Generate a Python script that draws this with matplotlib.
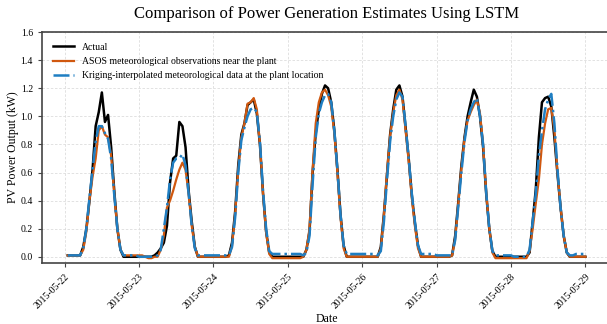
import matplotlib
matplotlib.use('Agg')
import matplotlib.pyplot as plt
import matplotlib.dates as mdates
import pandas as pd
import numpy as np

plt.rcParams['font.family'] = ['Liberation Serif', 'DejaVu Serif']

# hourly values, one list per day (01:00 ... 24:00)
actual_days = [
    [0.01]*4 + [0.01, 0.07, 0.2, 0.4, 0.62, 0.93, 1.03, 1.17, 0.96, 1.01, 0.78, 0.47, 0.2, 0.05, 0.0, 0.0, 0.0, 0.0, 0.0, 0.0],
    [0.0]*4 + [0.01, 0.03, 0.06, 0.1, 0.22, 0.53, 0.7, 0.72, 0.96, 0.93, 0.78, 0.47, 0.25, 0.07, 0.0, 0.0, 0.0, 0.0, 0.0, 0.0],
    [0.0]*4 + [0.01, 0.1, 0.32, 0.65, 0.87, 0.95, 1.08, 1.1, 1.12, 1.02, 0.8, 0.45, 0.18, 0.03, 0.0, 0.0, 0.0, 0.0, 0.0, 0.0],
    [0.0]*4 + [0.0, 0.05, 0.18, 0.6, 0.88, 1.05, 1.16, 1.22, 1.2, 1.1, 0.9, 0.62, 0.3, 0.08, 0.0, 0.0, 0.0, 0.0, 0.0, 0.0],
    [0.0]*4 + [0.0, 0.07, 0.3, 0.58, 0.87, 1.05, 1.19, 1.22, 1.14, 0.92, 0.7, 0.44, 0.24, 0.08, 0.0, 0.0, 0.0, 0.0, 0.0, 0.0],
    [0.0]*4 + [0.01, 0.15, 0.39, 0.65, 0.85, 1.0, 1.1, 1.19, 1.14, 1.0, 0.78, 0.45, 0.2, 0.04, 0.0, 0.0, 0.0, 0.0, 0.0, 0.0],
    [0.0]*4 + [0.0, 0.03, 0.25, 0.48, 0.85, 1.1, 1.13, 1.14, 1.07, 0.85, 0.59, 0.35, 0.15, 0.03, 0.0, 0.0, 0.0, 0.0, 0.0, 0.0],
]
asos_days = [
    [0.01]*4 + [0.01, 0.05, 0.18, 0.4, 0.57, 0.7, 0.9, 0.93, 0.87, 0.85, 0.72, 0.45, 0.2, 0.05, 0.01, 0.01, 0.01, 0.01, 0.01, 0.01],
    [0.01, 0.0, -0.01, -0.01] + [0.0, 0.0, 0.05, 0.15, 0.35, 0.4, 0.47, 0.55, 0.62, 0.67, 0.62, 0.45, 0.22, 0.07, 0.0, 0.0, 0.0, 0.0, 0.0, 0.0],
    [0.0]*4 + [0.0, 0.08, 0.3, 0.62, 0.85, 0.95, 1.09, 1.1, 1.13, 1.05, 0.8, 0.45, 0.17, 0.02, -0.01, -0.01, -0.01, -0.01, -0.01, -0.01],
    [-0.01]*4 + [0.0, 0.05, 0.2, 0.62, 0.95, 1.1, 1.17, 1.19, 1.15, 1.07, 0.88, 0.6, 0.28, 0.06, 0.0, 0.0, 0.0, 0.0, 0.0, 0.0],
    [0.0]*4 + [0.0, 0.06, 0.3, 0.6, 0.86, 1.03, 1.15, 1.19, 1.12, 0.9, 0.68, 0.42, 0.22, 0.06, 0.0, 0.0, 0.0, 0.0, 0.0, 0.0],
    [0.0]*4 + [0.01, 0.13, 0.38, 0.63, 0.84, 0.97, 1.03, 1.08, 1.12, 1.02, 0.8, 0.46, 0.2, 0.03, -0.01, -0.01, -0.01, -0.01, -0.01, -0.01],
    [-0.01]*4 + [-0.01, 0.04, 0.2, 0.38, 0.55, 0.8, 0.95, 1.05, 1.06, 0.9, 0.6, 0.35, 0.15, 0.03, 0.0, 0.0, 0.0, 0.0, 0.0, 0.0],
]
kriging_days = [
    [0.01]*4 + [0.01, 0.06, 0.2, 0.42, 0.62, 0.82, 0.93, 0.93, 0.88, 0.84, 0.7, 0.44, 0.2, 0.05, 0.01, 0.01, 0.01, 0.01, 0.01, 0.0],
    [0.0]*4 + [0.0, 0.01, 0.05, 0.2, 0.35, 0.55, 0.67, 0.7, 0.7, 0.73, 0.65, 0.45, 0.22, 0.06, 0.01, 0.01, 0.01, 0.01, 0.01, 0.01],
    [0.01]*4 + [0.01, 0.07, 0.28, 0.6, 0.83, 0.92, 1.0, 1.05, 1.06, 1.03, 0.82, 0.47, 0.2, 0.04, 0.02, 0.02, 0.02, 0.02, 0.02, 0.02],
    [0.02]*4 + [0.01, 0.03, 0.15, 0.52, 0.85, 1.02, 1.1, 1.15, 1.16, 1.1, 0.9, 0.62, 0.3, 0.08, 0.02, 0.02, 0.02, 0.02, 0.02, 0.02],
    [0.02]*4 + [0.01, 0.04, 0.25, 0.55, 0.82, 1.0, 1.12, 1.17, 1.14, 0.93, 0.7, 0.45, 0.25, 0.08, 0.02, 0.02, 0.02, 0.02, 0.02, 0.01],
    [0.01]*4 + [0.01, 0.12, 0.36, 0.6, 0.82, 0.97, 1.05, 1.1, 1.13, 1.0, 0.8, 0.46, 0.2, 0.04, 0.01, 0.01, 0.01, 0.01, 0.01, 0.01],
    [0.0]*4 + [0.0, 0.05, 0.25, 0.45, 0.72, 0.9, 1.05, 1.12, 1.16, 0.95, 0.62, 0.35, 0.15, 0.03, 0.01, 0.01, 0.02, 0.02, 0.02, 0.02],
]

actual = sum(actual_days, [])
asos = sum(asos_days, [])
kriging = sum(kriging_days, [])
dates = pd.date_range('2015-05-22 01:00', periods=len(actual), freq='h')

fig = plt.figure(figsize=(6.07, 3.24), dpi=100)
ax = fig.add_axes([0.069, 0.188, 0.938, 0.713])

ax.plot(dates, actual, color='black', linewidth=1.8, label='Actual')
ax.plot(dates, asos, color='#d0580f', linewidth=1.6,
        label='ASOS meteorological observations near the plant')
ax.plot(dates, kriging, color='#1f7ec2', linewidth=1.8, linestyle='-.',
        label='Kriging-interpolated meteorological data at the plant location')

ax.set_ylim(-0.045, 1.6)
ax.set_yticks(np.arange(0, 1.61, 0.2))
ax.xaxis.set_major_locator(mdates.DayLocator())
ax.xaxis.set_major_formatter(mdates.DateFormatter('%Y-%m-%d'))
plt.setp(ax.get_xticklabels(), rotation=45, ha='right', rotation_mode='anchor')
ax.tick_params(labelsize=7, length=3, color='#444444')

ax.grid(True, linestyle=(0, (3, 2)), linewidth=0.6, color='#dddddd')
ax.set_axisbelow(True)
for s in ax.spines.values():
    s.set_color('#444444')
    s.set_linewidth(1.2)

ax.set_title('Comparison of Power Generation Estimates Using LSTM', fontsize=12, pad=10)
ax.set_xlabel('Date', fontsize=8.5, labelpad=2)
ax.set_ylabel('PV Power Output (kW)', fontsize=8.5, labelpad=1)
ax.legend(loc='upper left', frameon=False, fontsize=7, handlelength=2.2,
          borderaxespad=0.7, labelspacing=0.55)

fig.savefig('out.png', dpi=100)
